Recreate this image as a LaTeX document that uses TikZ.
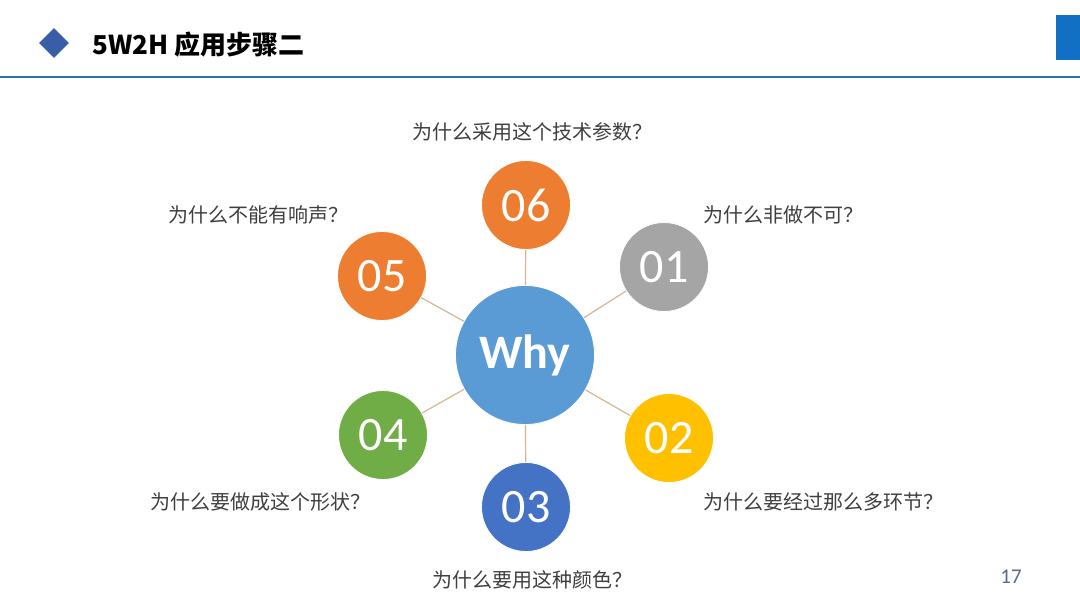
\documentclass[tikz,border=0pt]{standalone}
\usepackage{fontspec}
\setmainfont{Carlito}
\newfontfamily\cjk{Noto Sans CJK SC}
\usetikzlibrary{shapes.geometric}
\definecolor{cOrange}{HTML}{ED7D31}
\definecolor{cGray}{HTML}{A5A5A5}
\definecolor{cGold}{HTML}{FFC000}
\definecolor{cBlue}{HTML}{4472C4}
\definecolor{cGreen}{HTML}{70AD47}
\definecolor{cWhy}{HTML}{5B9BD5}
\definecolor{cLink}{HTML}{D9B48F}
\definecolor{cText}{HTML}{3F3F3F}
\definecolor{cRule}{HTML}{2A72B0}
\definecolor{cTab}{HTML}{1170C3}
\definecolor{cDiamond}{HTML}{3A5DA8}
\definecolor{cPage}{HTML}{5A6A8C}
\tikzset{
  small/.style={circle, minimum size=89pt, inner sep=0pt, draw=white, line width=0.8pt,
    text=white, font=\fontsize{48}{48}\selectfont},
  big/.style={circle, minimum size=139pt, inner sep=0pt, draw=white, line width=0.8pt, fill=cWhy,
    text=white, font=\fontsize{48}{48}\selectfont\bfseries},
  link/.style={draw=cLink, line width=1.2pt},
  question/.style={text=cText, inner sep=0pt, font=\cjk\fontsize{20}{20}\selectfont},
}
\begin{document}
\begin{tikzpicture}[x=1pt,y=-1pt]
\path[use as bounding box, fill=white] (0,0) rectangle (1080,608);
% header
\node[diamond, fill=cDiamond, minimum width=30pt, minimum height=30pt, inner sep=0pt] (dia) at (54,43) {};
\node[anchor=west, inner sep=0pt, font=\cjk\bfseries\fontsize{26}{26}\selectfont, text=black] (title) at (92,45) {5W2H 应用步骤二};
\coordinate (ruleL) at (0,77);
\coordinate (ruleR) at (1080,77);
\draw[cRule, line width=2.2pt] (ruleL) -- (ruleR);
\node[fill=cTab, minimum width=24pt, minimum height=45pt, inner sep=0pt, anchor=north west] (tab) at (1056,15) {};
% nodes
\node[big] (why) at (525,355) {Why};
\node[small, fill=cOrange] (n06) at (526,205) {06};
\node[small, fill=cGray] (n01) at (664,267) {01};
\node[small, fill=cGold] (n02) at (669,438) {02};
\node[small, fill=cBlue] (n03) at (526,507) {03};
\node[small, fill=cGreen] (n04) at (383,435) {04};
\node[small, fill=cOrange] (n05) at (382,276) {05};
\foreach \n in {n06,n01,n02,n03,n04,n05}{\draw[link] (why) -- (\n);}
% questions
\node[question, anchor=west] (q06) at (412,132) {为什么采用这个技术参数？};
\node[question, anchor=west] (q01) at (703,215) {为什么非做不可？};
\node[question, anchor=west] (q05) at (168,215) {为什么不能有响声？};
\node[question, anchor=west] (q04) at (150,502) {为什么要做成这个形状？};
\node[question, anchor=west] (q02) at (703,502) {为什么要经过那么多环节？};
\node[question, anchor=west] (q03) at (432,580) {为什么要用这种颜色？};
\node[text=cPage, inner sep=0pt, font=\fontsize{21}{21}\selectfont] (page) at (1011,577) {17};
\end{tikzpicture}
\end{document}
